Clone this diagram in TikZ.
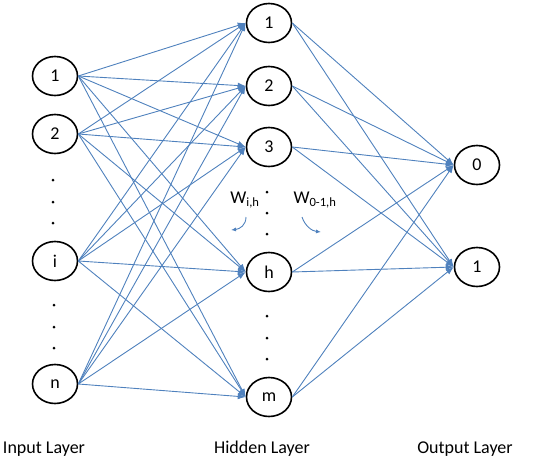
\documentclass[tikz,border=0pt]{standalone}
\usepackage{fontspec}
\setmainfont{Carlito}
\usetikzlibrary{shapes.geometric,arrows.meta}
\definecolor{netblue}{RGB}{79,129,189}
\begin{document}
\begin{tikzpicture}[x=1pt,y=-1pt,
	neuron/.style={draw, ellipse, line width=1.6pt, minimum width=45pt, minimum height=39pt, inner sep=0pt, font=\fontsize{18}{21}\selectfont},
	dot/.style={circle, fill, inner sep=0pt, minimum size=3pt},
	link/.style={draw=netblue, line width=0.9pt, -{Latex[length=8pt,width=6pt]}},
	layer/.style={font=\fontsize{18}{21}\selectfont}]
	\useasboundingbox (0,0) rectangle (536,469);

	% input layer
	\node (x1) [neuron] at (55,76) {1};
	\node (x2) [neuron, below of = x1, node distance=58pt] {2};
	\node (xi) [neuron, below of = x2, node distance=127pt] {i};
	\node (xn) [neuron, below of = xi, node distance=123pt] {n};
	% hidden layer
	\node (h1) [neuron] at (269,23) {1};
	\node (h2) [neuron, below of = h1, node distance=63pt] {2};
	\node (h3) [neuron, below of = h2, node distance=61pt] {3};
	\node (hh) [neuron, below of = h3, node distance=125pt] {h};
	\node (hm) [neuron, below of = hh, node distance=125pt] {m};
	% output layer
	\node (o0) [neuron] at (477,165) {0};
	\node (o1) [neuron, below of = o0, node distance=102pt] {1};

	% dots
	\node (d1) [dot] at (53,180) {};
	\node (d2) [dot] at (53,202) {};
	\node (d3) [dot] at (53,223) {};
	\node (d4) [dot] at (54,305) {};
	\node (d5) [dot] at (54,327) {};
	\node (d6) [dot] at (54,348) {};
	\node (d7) [dot] at (267,192) {};
	\node (d8) [dot] at (267,213) {};
	\node (d9) [dot] at (267,234) {};
	\node (d10) [dot] at (267,316) {};
	\node (d11) [dot] at (267,338) {};
	\node (d12) [dot] at (267,359) {};

	% input -> hidden
	\draw[link] (x1.east) -- (h1.west);
	\draw[link] (x1.east) -- (h2.west);
	\draw[link] (x1.east) -- (h3.west);
	\draw[link] (x1.east) -- (hh.west);
	\draw[link] (x1.east) -- (hm.west);
	\draw[link] (x2.east) -- (h1.west);
	\draw[link] (x2.east) -- (h2.west);
	\draw[link] (x2.east) -- (h3.west);
	\draw[link] (x2.east) -- (hh.west);
	\draw[link] (x2.east) -- (hm.west);
	\draw[link] (xi.east) -- (h1.west);
	\draw[link] (xi.east) -- (h2.west);
	\draw[link] (xi.east) -- (h3.west);
	\draw[link] (xi.east) -- (hh.west);
	\draw[link] (xi.east) -- (hm.west);
	\draw[link] (xn.east) -- (h1.west);
	\draw[link] (xn.east) -- (h2.west);
	\draw[link] (xn.east) -- (h3.west);
	\draw[link] (xn.east) -- (hh.west);
	\draw[link] (xn.east) -- (hm.west);
	% hidden -> output
	\draw[link] (h1.east) -- (o0.west);
	\draw[link] (h1.east) -- (o1.west);
	\draw[link] (h2.east) -- (o0.west);
	\draw[link] (h2.east) -- (o1.west);
	\draw[link] (h3.east) -- (o0.west);
	\draw[link] (h3.east) -- (o1.west);
	\draw[link] (hh.east) -- (o0.west);
	\draw[link] (hh.east) -- (o1.west);
	\draw[link] (hm.east) -- (o0.west);
	\draw[link] (hm.east) -- (o1.west);

	% weights
	\node (wih) [layer] at (245,200) {W\textsubscript{i,h}};
	\node (woh) [layer] at (315,200) {W\textsubscript{0-1,h}};
	\coordinate (wa) at (246,217);
	\coordinate (wb) at (231,230);
	\coordinate (wc) at (302,217);
	\coordinate (wd) at (321,232);
	\draw[netblue, line width=0.9pt, -{Latex[length=5pt,width=4pt]}] (wa) .. controls (246,225) and (240,229) .. (wb);
	\draw[netblue, line width=0.9pt, -{Latex[length=5pt,width=4pt]}] (wc) .. controls (305,226) and (312,231) .. (wd);

	% layer names
	\node (lin) [layer] at (44,449) {Input Layer};
	\node (lhid) [layer] at (262,449) {Hidden Layer};
	\node (lout) [layer] at (465,449) {Output Layer};
\end{tikzpicture}
\end{document}
